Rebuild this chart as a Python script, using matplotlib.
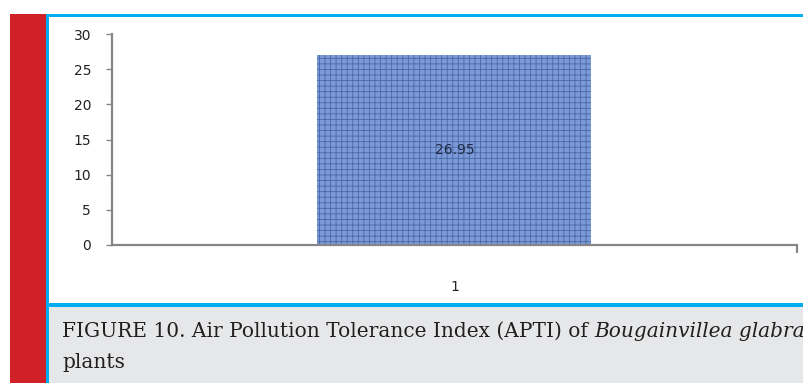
import matplotlib
matplotlib.use("Agg")
import matplotlib.pyplot as plt
from matplotlib.patches import Rectangle

# data
categories = ["1"]
values = [26.95]
yticks = [0, 5, 10, 15, 20, 25, 30]
caption_plain = "FIGURE 10. Air Pollution Tolerance Index (APTI) of "
caption_italic = "Bougainvillea glabra"
caption_line2 = "plants"

W, H = 804, 383
fig = plt.figure(figsize=(W / 100, H / 100), dpi=100)
fig.patch.set_facecolor("white")


def box(x0, y0, x1, y1, color):
    # pixel box, measured from the top-left corner
    fig.patches.append(Rectangle((x0 / W, 1 - y1 / H), (x1 - x0) / W, (y1 - y0) / H,
                                 transform=fig.transFigure, color=color, lw=0, zorder=0))


box(10, 14, 46, H, "#d02128")      # red side bar
box(46, 14, W, 17, "#00aeef")      # cyan top line
box(46, 14, 49, H, "#00aeef")      # cyan left line
box(49, 303, W, 307, "#00aeef")    # cyan separator
box(49, 307, W, H, "#e6e7e8")      # caption background

ax = fig.add_axes([112 / W, 1 - 245 / H, 685 / W, 211 / H])
ax.set_facecolor("none")

plt.rcParams["hatch.linewidth"] = 0.6
x = list(range(1, len(categories) + 1))
bars = ax.bar(x, values, width=0.4, color="#7c9bd6", edgecolor="#4a68a8",
              hatch="+++", linewidth=0, zorder=2)
for xi, v in zip(x, values):
    ax.text(xi, v / 2, f"{v:.2f}", ha="center", va="center", fontsize=10,
            color="#1f2a44", zorder=3)

ax.set_xlim(0.5, len(categories) + 0.5)
ax.set_ylim(0, 30)
ax.set_yticks(yticks)
ax.set_xticks(x)
ax.set_xticklabels(categories)
ax.set_xticks([len(categories) + 0.5], minor=True)

for s in ["top", "right"]:
    ax.spines[s].set_visible(False)
for s in ["left", "bottom"]:
    ax.spines[s].set_color("#868686")
    ax.spines[s].set_linewidth(1.6)

ax.tick_params(axis="y", length=4, width=1, color="#868686", pad=11,
               labelsize=10, labelcolor="#222222")
ax.tick_params(axis="x", which="major", length=0, pad=25,
               labelsize=10, labelcolor="#222222")
ax.tick_params(axis="x", which="minor", length=6, width=1.6, color="#868686")

# caption, plain part then italic species name
fs = 14.5
t1 = fig.text(62 / W, 1 - 337 / H, caption_plain, family="DejaVu Serif",
              fontsize=fs, color="#231f20", va="baseline")
fig.canvas.draw()
bb = t1.get_window_extent()
fig.text(bb.x1 / W, 1 - 337 / H, caption_italic, family="DejaVu Serif",
         style="italic", fontsize=fs, color="#231f20", va="baseline")
fig.text(62 / W, 1 - 368 / H, caption_line2, family="DejaVu Serif",
         fontsize=fs, color="#231f20", va="baseline")

fig.savefig("out.png", dpi=100)
